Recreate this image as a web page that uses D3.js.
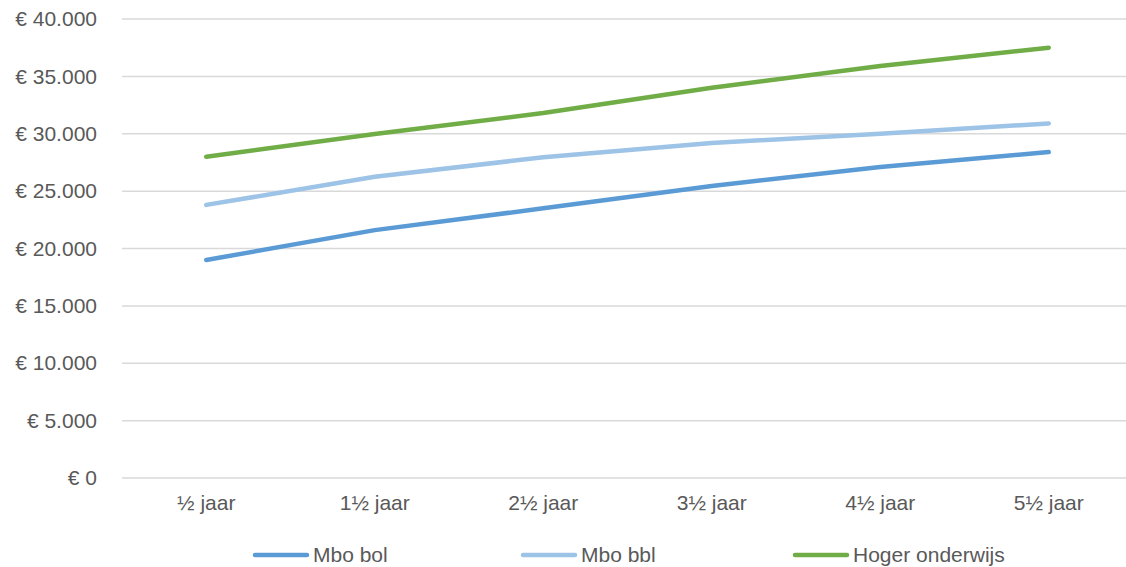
<!DOCTYPE html>
<html>
<head>
<meta charset="utf-8">
<script src="https://cdn.jsdelivr.net/npm/d3@7"></script>
<style>
  html, body { margin: 0; padding: 0; background: #fff; }
  svg { display: block; font-family: "Liberation Sans", Arial, sans-serif; }
</style>
</head>
<body>
<div id="chart"></div>
<script>
const categories = ["½ jaar", "1½ jaar", "2½ jaar", "3½ jaar", "4½ jaar", "5½ jaar"];
const seriesNames = ["Mbo bol", "Mbo bbl", "Hoger onderwijs"];
const mboBol = [19000, 21600, 23500, 25450, 27100, 28400];
const mboBbl = [23800, 26250, 27950, 29200, 30000, 30900];
const hogerOnderwijs = [28000, 29980, 31800, 34000, 35900, 37500];
const yTicks = [0, 5000, 10000, 15000, 20000, 25000, 30000, 35000, 40000];
const colors = ["#5B9BD5", "#9DC3E6", "#70AD47"];

(function () {
  const W = 1126, H = 567;
  const left = 122, right = 1133, top = 19, bottom = 478;
  const fs = "21px";

  const svg = d3.select("#chart").append("svg")
    .attr("width", W).attr("height", H);

  const x = d3.scaleBand().domain(categories).range([left, right]);
  const y = d3.scaleLinear().domain([0, 40000]).range([bottom, top]);

  const nl = d3.formatLocale({ decimal: ",", thousands: ".", grouping: [3], currency: ["€ ", ""] });
  const fmt = v => "€ " + nl.format(",")(v);

  // gridlines
  svg.append("g").selectAll("line").data(yTicks).join("line")
    .attr("x1", left).attr("x2", W)
    .attr("y1", d => y(d)).attr("y2", d => y(d))
    .attr("stroke", "#D9D9D9").attr("stroke-width", 1.5);

  // y axis
  const yAxis = svg.append("g")
    .attr("transform", `translate(${left - 25},0)`)
    .call(d3.axisLeft(y).tickValues(yTicks).tickFormat(fmt).tickSize(0).tickPadding(0));
  yAxis.select(".domain").remove();
  yAxis.selectAll(".tick text").attr("font-size", fs).attr("fill", "#595959")
    .attr("font-family", "Liberation Sans, Arial, sans-serif");

  // x axis
  const xAxis = svg.append("g")
    .attr("transform", `translate(0,${bottom})`)
    .call(d3.axisBottom(x).tickSize(0).tickPadding(17));
  xAxis.select(".domain").remove();
  xAxis.selectAll(".tick text").attr("font-size", fs).attr("fill", "#595959")
    .attr("font-family", "Liberation Sans, Arial, sans-serif");

  const series = [mboBol, mboBbl, hogerOnderwijs];
  const line = d3.line()
    .x((d, i) => x(categories[i]) + x.bandwidth() / 2)
    .y(d => y(d));

  svg.append("g").selectAll("path").data(series).join("path")
    .attr("d", line)
    .attr("fill", "none")
    .attr("stroke", (d, i) => colors[i])
    .attr("stroke-width", 4.5)
    .attr("stroke-linecap", "round")
    .attr("stroke-linejoin", "round");

  // legend
  const legendX = [255, 523, 795];
  const leg = svg.append("g").selectAll("g").data(seriesNames).join("g")
    .attr("transform", (d, i) => `translate(${legendX[i]},555)`);
  leg.append("line")
    .attr("x1", 0).attr("x2", 52).attr("y1", 0).attr("y2", 0)
    .attr("stroke", (d, i) => colors[i])
    .attr("stroke-width", 4.5)
    .attr("stroke-linecap", "round");
  leg.append("text")
    .attr("x", 58).attr("y", 0).attr("dy", "0.35em")
    .attr("font-size", fs).attr("fill", "#595959")
    .text(d => d);
})();
</script>
</body>
</html>
